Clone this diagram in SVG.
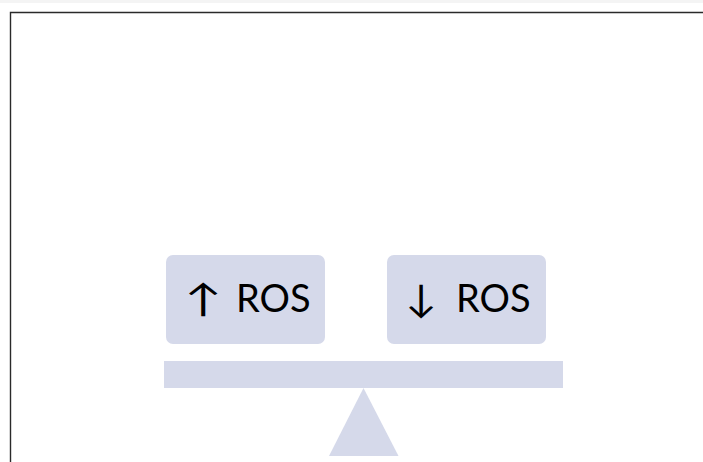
<svg xmlns="http://www.w3.org/2000/svg" width="703" height="462" viewBox="0 0 703 462">
<style>
.box{fill:#d5d9ea}
.lbl{font-family:Lato,"Noto Sans","DejaVu Sans",sans-serif;font-size:38px;fill:#000}
.arr{font-family:Lato,"DejaVu Sans",sans-serif;font-size:38px;fill:#000;text-anchor:middle}
</style>
<rect x="0" y="0" width="703" height="462" fill="#fff"/>
<rect x="0" y="0" width="703" height="3" fill="#f4f4f4"/>
<path d="M10.5 462 V12.5 H703" fill="none" stroke="#2a2a2a" stroke-width="1.4"/>
<g id="scale">
<rect class="box" x="164" y="361" width="399" height="27"/>
<polygon class="box" points="363.5,388 398.5,456 329,456"/>
</g>
<g id="ros-up">
<rect class="box" x="166" y="255" width="159" height="89" rx="7"/>
<text class="arr" transform="translate(203,312) scale(1.3,1)">↑</text>
<text class="lbl" x="236" y="312">ROS</text>
</g>
<g id="ros-down">
<rect class="box" x="387" y="255" width="159" height="89" rx="7"/>
<text class="arr" transform="translate(421,312) scale(1.1,1)">↓</text>
<text class="lbl" x="456" y="312">ROS</text>
</g>
<g id="connectors"/>
</svg>
